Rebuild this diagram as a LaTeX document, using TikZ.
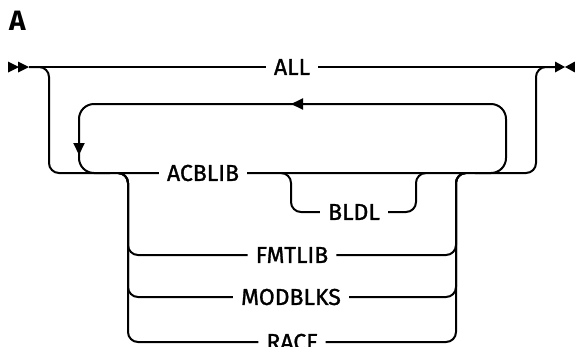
\documentclass[tikz,border=0pt]{standalone}
\usepackage{fontspec}
\setmainfont{Fira Sans}
\newfontfamily\kwfont{Fira Sans}[FakeBold=1.2]
\usetikzlibrary{arrows.meta}
\begin{document}
\begin{tikzpicture}[x=1pt,y=-1pt,
  rail/.style={line width=2pt},
  kw/.style={inner xsep=8pt,inner ysep=0pt,font=\kwfont\fontsize{23}{26}\selectfont},
  rr/.style={rail,rounded corners=10pt},
  loopr/.style={rail,rounded corners=15pt},
  tip/.style={rail,-{Triangle[length=12pt,width=11pt]}}]
\useasboundingbox (0,0) rectangle (575,346);
\node[font=\bfseries\fontsize{28}{30}\selectfont,inner sep=0pt] (head) at (17.5,21) {A};
% labels
\node[kw] (all) at (292,67) {ALL};
\node[kw] (acb) at (203,173) {ACBLIB};
\node[kw] (bldl) at (354,212) {BLDL};
\node[kw] (fmt) at (292,255) {FMTLIB};
\node[kw] (mod) at (291,297) {MODBLKS};
\node[kw] (racf) at (292,342) {RACF};
% coordinates
\coordinate (s) at (29,67);
\coordinate (e) at (555,67);
\coordinate (l1) at (49,67);
\coordinate (l2) at (49,173);
\coordinate (r1) at (536,173);
\coordinate (r2) at (536,67);
% start / end symbols
\fill (8,61.5) -- (19,67) -- (8,72.5) -- cycle;
\fill (18,61.5) -- (29,67) -- (18,72.5) -- cycle;
\fill (555,61.5) -- (565,67) -- (555,72.5) -- cycle;
\fill (575,61.5) -- (565,67) -- (575,72.5) -- cycle;
% main line
\draw[rail] (s) -- (all.west);
\draw[rail] (all.east) -- (e);
% lower path
\draw[rr] (s) -- (l1) -- (l2) -- (acb.west);
\draw[rr] (acb.east) -- (r1) -- (r2) -- (e);
% repeat loop
\coordinate (la) at (110,173);
\coordinate (lb) at (79,173);
\coordinate (lc) at (79,104);
\coordinate (ld) at (506,104);
\coordinate (le) at (506,173);
\coordinate (lf) at (475,173);
\draw[loopr] (la) -- (lb) -- (lc) -- (ld) -- (le) -- (lf);
\coordinate (ta) at (312,104);
\coordinate (tb) at (291,104);
\draw[tip] (ta) -- (tb);
\coordinate (va) at (79,130);
\coordinate (vb) at (79,155);
\draw[tip] (va) -- (vb);
% BLDL branch
\coordinate (b0) at (281,173);
\coordinate (b1) at (291,173);
\coordinate (b2) at (291,212);
\coordinate (b3) at (416,212);
\coordinate (b4) at (416,173);
\coordinate (b5) at (426,173);
\draw[rr] (b0) -- (b1) -- (b2) -- (bldl.west);
\draw[rr] (bldl.east) -- (b3) -- (b4) -- (b5);
% choice stack
\coordinate (c0) at (118,173);
\coordinate (c1) at (128,173);
\coordinate (d1) at (456,173);
\coordinate (d0) at (466,173);
\foreach \n/\y in {fmt/255,mod/297,racf/342}{
  \draw[rr] (c0) -- (c1) -- (128,\y) -- (\n.west);
  \draw[rr] (\n.east) -- (456,\y) -- (d1) -- (d0);
}
\end{tikzpicture}
\end{document}
